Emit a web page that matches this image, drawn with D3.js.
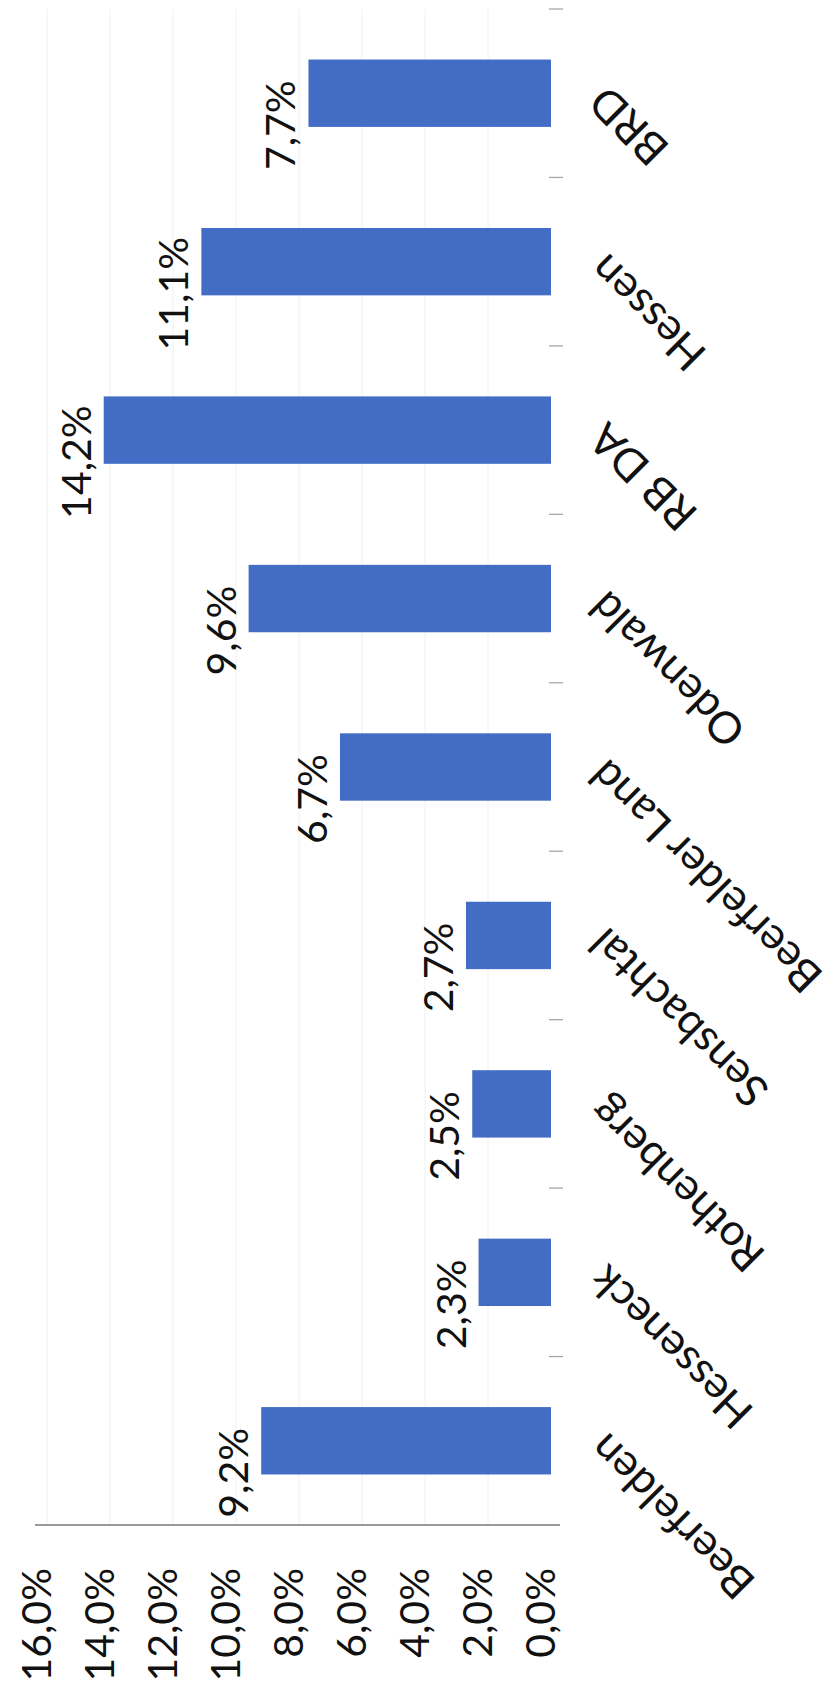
<!DOCTYPE html>
<html>
<head>
<meta charset="utf-8">
<script src="https://cdn.jsdelivr.net/npm/d3@7"></script>
<style>
  html, body { margin: 0; padding: 0; background: #fff; }
  svg { display: block; }
  text { font-family: Lato, "Open Sans", sans-serif; fill: #111; font-weight: 400; }
</style>
</head>
<body>
<div id="chart"></div>
<script>
// Anteil in Prozent je Gebiet
const categories = ["Beerfelden", "Hesseneck", "Rothenberg", "Sensbachtal", "Beerfelder Land", "Odenwald", "RB DA", "Hessen", "BRD"];
const values = [9.2, 2.3, 2.5, 2.7, 6.7, 9.6, 14.2, 11.1, 7.7];
const valueTicks = [0, 2, 4, 6, 8, 10, 12, 14, 16];

const pageW = 833, pageH = 1694;
// The chart is laid out as an ordinary column chart (W x H) and then turned
// a quarter turn counter-clockwise onto the portrait page.
const W = pageH, H = pageW;

const de = d3.formatLocale({ decimal: ",", thousands: ".", grouping: [3], currency: ["", " €"] });
const fmt = v => de.format(".1f")(v) + "%";

const svg = d3.select("#chart").append("svg")
  .attr("width", pageW).attr("height", pageH);
svg.append("rect").attr("width", pageW).attr("height", pageH).attr("fill", "#fff");

const g = svg.append("g").attr("transform", `translate(0,${pageH}) rotate(-90)`);

const x = d3.scaleBand().domain(categories).range([169, 1685])
  .paddingInner(0.6).paddingOuter(0.3);
const y = d3.scaleLinear().domain([0, 16]).range([551, 47]);
const [x0, x1] = x.range();
const step = x.step();

// light gridlines
g.append("g").selectAll("line").data(valueTicks.filter(t => t > 0)).join("line")
  .attr("x1", x0).attr("x2", x1)
  .attr("y1", d => y(d)).attr("y2", d => y(d))
  .attr("stroke", "#f0f0f0").attr("stroke-width", 1);

// value axis line
g.append("line")
  .attr("x1", x0).attr("x2", x0)
  .attr("y1", y(16) - 12).attr("y2", y(0) + 9)
  .attr("stroke", "#7a7a7a").attr("stroke-width", 1.6);

// value axis labels
g.append("g").selectAll("text").data(valueTicks).join("text")
  .attr("x", x0 - 43)
  .attr("y", d => y(d) - 11)
  .attr("dy", "0.36em")
  .attr("text-anchor", "end")
  .attr("font-size", 41)
  .text(d => fmt(d));

// category boundary tick marks
g.append("g").selectAll("line").data(d3.range(1, categories.length + 1)).join("line")
  .attr("x1", i => x0 + i * step).attr("x2", i => x0 + i * step)
  .attr("y1", y(0) - 2).attr("y2", y(0) + 12)
  .attr("stroke", "#a8a8a8").attr("stroke-width", 1.3);

// bars
g.append("g").selectAll("rect").data(values).join("rect")
  .attr("x", (d, i) => x(categories[i]))
  .attr("width", x.bandwidth())
  .attr("y", d => y(d))
  .attr("height", d => y(0) - y(d))
  .attr("fill", "#436dc5");

// value labels
g.append("g").selectAll("text").data(values).join("text")
  .attr("x", (d, i) => x(categories[i]) + x.bandwidth() / 2 - 32)
  .attr("y", d => y(d) - 13)
  .attr("text-anchor", "middle")
  .attr("font-size", 41)
  .text(d => fmt(d));

// slanted category labels
g.append("g").selectAll("text").data(categories).join("text")
  .attr("transform", d => `translate(${x(d) + x.bandwidth() / 2 + 10},${y(0) + 57}) rotate(-45)`)
  .attr("text-anchor", "end")
  .attr("font-size", 44)
  .text(d => d);
</script>
</body>
</html>
